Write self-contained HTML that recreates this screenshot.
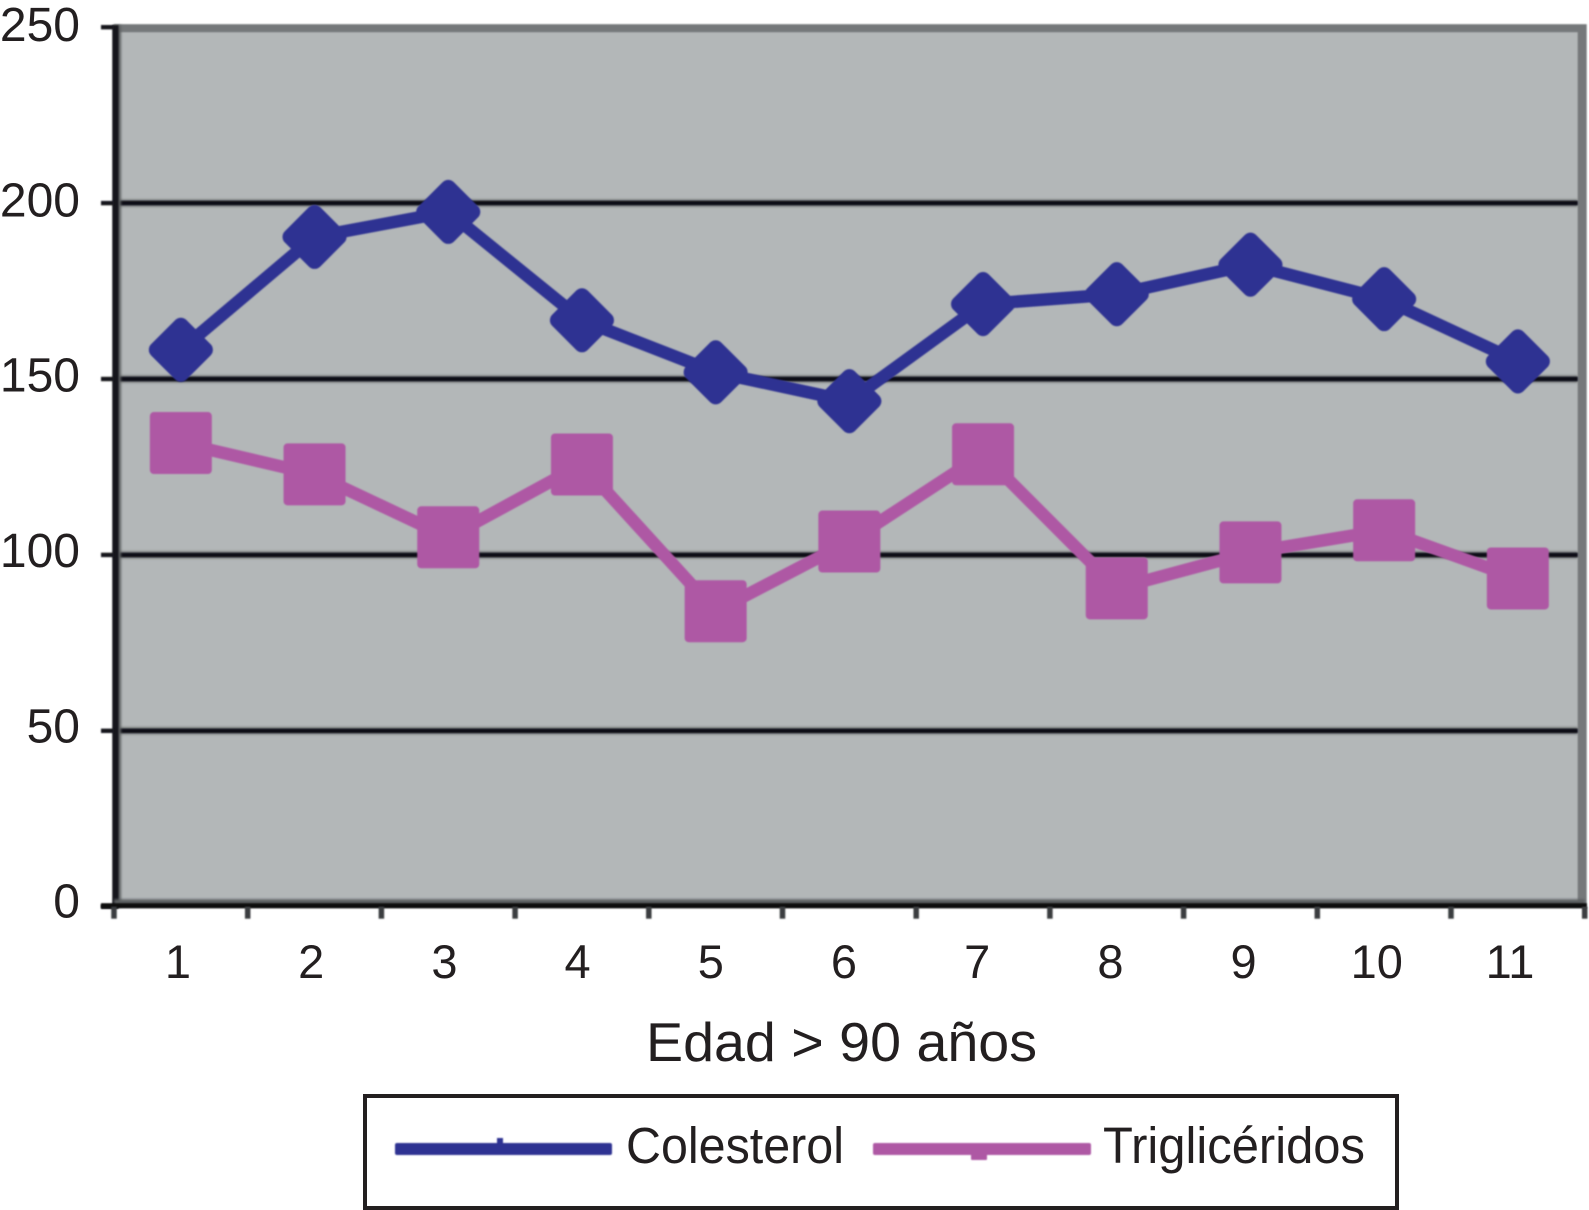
<!DOCTYPE html>
<html lang="es">
<head>
<meta charset="utf-8">
<title>Colesterol y triglicéridos, edad &gt; 90 años</title>
<style>
html,body{margin:0;padding:0;background:#fff;width:1589px;height:1210px;overflow:hidden}
svg{display:block}
text{font-family:"Liberation Sans",sans-serif;fill:#231f20}
</style>
</head>
<body>
<svg id="chart" xmlns="http://www.w3.org/2000/svg" width="1589" height="1210" viewBox="0 0 1589 1210">
  <defs>
    <filter id="soft" filterUnits="userSpaceOnUse" x="0" y="0" width="1589" height="1210"><feGaussianBlur stdDeviation="0.8"/></filter>
    <filter id="haze" filterUnits="userSpaceOnUse" x="0" y="0" width="1589" height="1210"><feGaussianBlur stdDeviation="1.4"/></filter>
  </defs>
  <g id="plot"></g>
  <g id="yticks"></g>
  <g id="xticks"></g>
  <g id="series" filter="url(#soft)"></g>
  <text x="646" y="1061" font-size="55" textLength="391" lengthAdjust="spacingAndGlyphs">Edad &gt; 90 años</text>
  <g>
    <rect x="365" y="1096" width="1032" height="112" fill="#fff" stroke="#231f20" stroke-width="4"/>
    <g filter="url(#soft)">
      <rect x="395" y="1143" width="217" height="12" rx="2" fill="#2e3192"/>
      <rect x="497" y="1138" width="6" height="8" fill="#2e3192"/>
    </g>
    <text x="626" y="1163" font-size="51" textLength="218" lengthAdjust="spacingAndGlyphs">Colesterol</text>
    <g filter="url(#soft)">
      <rect x="873" y="1143" width="218" height="12" rx="2" fill="#ae58a4"/>
      <rect x="971" y="1150" width="16" height="10" rx="1" fill="#ae58a4"/>
    </g>
    <text x="1103" y="1163" font-size="51" textLength="262" lengthAdjust="spacingAndGlyphs">Triglicéridos</text>
  </g>
</svg>
<script>
const categories = ["1","2","3","4","5","6","7","8","9","10","11"];
const colesterol = [158.3,190.4,197.5,166.7,151.9,143.7,171.3,174.1,182.5,172.7,155];
const trigliceridos = [131.8,122.9,105,125.7,84,103.8,128.6,90.5,100.7,107,93.3];
const yTickValues = [0,50,100,150,200,250];

const NS = "http://www.w3.org/2000/svg";
const X0 = 114, BAND = 133.7, Y0 = 906.7, UNIT = 3.518;
const xBand = i => X0 + BAND * i;
const xScale = i => X0 + BAND * (i + 0.5);
const yScale = v => Y0 - UNIT * v;
const PLOT_RIGHT = xBand(categories.length);

function mk(tag, attrs, parent) {
  const el = document.createElementNS(NS, tag);
  for (const k in attrs) el.setAttribute(k, attrs[k]);
  parent.appendChild(el);
  return el;
}

const plot = document.getElementById("plot");
const yG = document.getElementById("yticks");
const xG = document.getElementById("xticks");
const seriesG = document.getElementById("series");

// plot background with grey frame on top and right
const topY = yScale(250);
const frame = mk("rect", {x: X0, y: topY - 3, width: PLOT_RIGHT - X0 + 2, height: Y0 - topY + 3, fill: "#74787a", filter: "url(#soft)"}, plot);


const bg = mk("rect", {x: X0, y: topY + 5, width: PLOT_RIGHT - X0 - 7, height: Y0 - topY - 10, fill: "#b3b7b8", filter: "url(#soft)"}, plot);



// gridlines
yTickValues.forEach(v => {
  if (v === 0 || v === 250) return;
  const halo = mk("line", {x1: X0, x2: PLOT_RIGHT - 7, y1: yScale(v), y2: yScale(v), stroke: "#6f7374", "stroke-width": 7, filter: "url(#haze)"}, plot);
  
  
  const g = mk("line", {x1: X0, x2: PLOT_RIGHT - 7, y1: yScale(v), y2: yScale(v), stroke: "#0e1112", "stroke-width": 4.4, filter: "url(#soft)"}, plot);
  
  
});

// y axis
const yHalo = mk("line", {x1: X0 + 3, x2: X0 + 3, y1: topY - 2, y2: Y0, stroke: "#5b5f60", "stroke-width": 8, filter: "url(#haze)"}, yG);


const yAxis = mk("line", {x1: X0 + 1.5, x2: X0 + 1.5, y1: topY - 2, y2: Y0 + 2, stroke: "#15181a", "stroke-width": 6, filter: "url(#soft)"}, yG);


yTickValues.forEach(v => {
  const t = mk("line", {x1: 101, x2: X0, y1: yScale(v), y2: yScale(v), stroke: "#15181a", "stroke-width": 4.4, filter: "url(#soft)"}, yG);
  
  
  const l = mk("text", {x: 80, y: yScale(v) + 14 - (250 - v) * 0.0126, "text-anchor": "end", "font-size": 48}, yG);
  l.textContent = String(v);
  
  
});

// x axis
const xHalo = mk("line", {x1: X0, x2: PLOT_RIGHT, y1: Y0 - 4, y2: Y0 - 4, stroke: "#5b5f60", "stroke-width": 7, filter: "url(#haze)"}, xG);


const xAxis = mk("line", {x1: 101, x2: PLOT_RIGHT + 2, y1: Y0 - 1, y2: Y0 - 1, stroke: "#0a0c0d", "stroke-width": 5, filter: "url(#soft)"}, xG);


for (let i = 0; i <= categories.length; i++) {
  const t = mk("line", {x1: xBand(i), x2: xBand(i), y1: Y0, y2: Y0 + 12, stroke: "#3a3d3f", "stroke-width": 5.5, filter: "url(#soft)"}, xG);
  
  
}
categories.forEach((c, i) => {
  const l = mk("text", {x: 178 + 133.2 * i, y: 978, "text-anchor": "middle", "font-size": 47}, xG);
  l.textContent = c;
  
  
});

// Colesterol series
const colLine = mk("polyline", {points: colesterol.map((v, i) => xScale(i) + "," + yScale(v)).join(" "), fill: "none", stroke: "#2e3192", "stroke-width": 12.5, "stroke-linejoin": "round"}, seriesG);


colesterol.forEach((v, i) => {
  const s = 50, cx = xScale(i), cy = yScale(v);
  const m = mk("rect", {x: cx - s / 2, y: cy - s / 2, width: s, height: s, rx: 8, fill: "#2e3192", transform: "rotate(45 " + cx + " " + cy + ")"}, seriesG);
  
  
});

// Triglicéridos series
const triLine = mk("polyline", {points: trigliceridos.map((v, i) => xScale(i) + "," + yScale(v)).join(" "), fill: "none", stroke: "#ae58a4", "stroke-width": 12.5, "stroke-linejoin": "round"}, seriesG);


trigliceridos.forEach((v, i) => {
  const s = 62, cx = xScale(i), cy = yScale(v);
  const m = mk("rect", {x: cx - s / 2, y: cy - s / 2, width: s, height: s, rx: 4, fill: "#ae58a4"}, seriesG);
  
  
});
</script>
</body>
</html>
